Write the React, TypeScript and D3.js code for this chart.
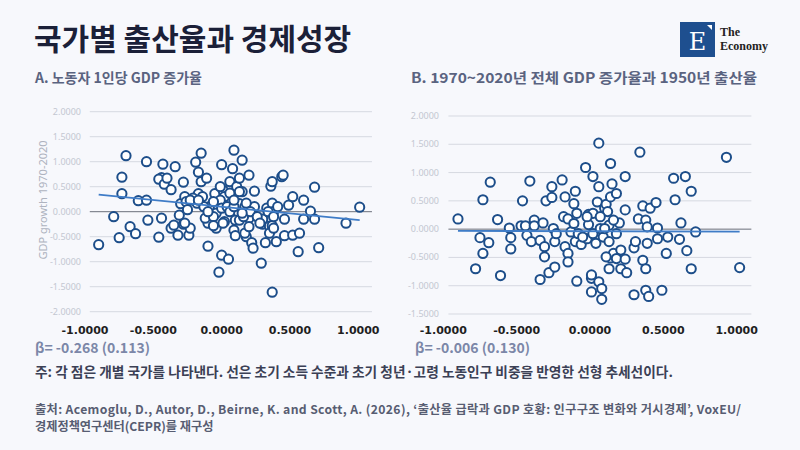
import { useEffect, useRef } from 'react';
import * as d3 from 'd3';

// Panel A: birth-rate change (x) vs GDP per worker growth (y)
const pointsA: [number, number][] = [
  [-0.90, -0.66], [-0.79, -0.10], [-0.75, -0.52], [-0.73, 0.69], [-0.73, 0.36], [-0.70, 1.12],
  [-0.67, -0.30], [-0.63, -0.44], [-0.61, 0.22], [-0.55, 1.00], [-0.55, 0.23], [-0.54, -0.17],
  [-0.46, -0.51], [-0.44, -0.13], [-0.43, 0.95], [-0.44, 0.68], [-0.46, 0.65], [-0.42, 0.55],
  [-0.40, 0.67], [-0.37, 0.44], [-0.37, -0.33], [-0.34, 0.90], [-0.32, -0.47], [-0.31, -0.07],
  [-0.30, 0.16], [-0.28, 0.59], [-0.28, -0.25], [-0.27, 0.30], [-0.26, 0.20], [-0.25, 0.04],
  [-0.24, -0.47], [-0.23, -0.33], [-0.19, 0.99], [-0.17, 0.79], [-0.17, 0.36], [-0.15, 1.17],
  [-0.15, 0.60], [-0.14, 0.30], [-0.11, 0.67], [-0.10, -0.69], [-0.10, -0.17], [-0.10, -0.23],
  [-0.09, 0.10], [-0.05, 0.36], [-0.04, -0.03], [-0.04, -0.33], [-0.02, -1.21], [0.00, -0.87],
  [0.00, 0.94], [0.01, 0.43], [0.02, 0.30], [0.02, -0.20], [0.05, -0.95], [0.06, 0.60],
  [0.08, 0.86], [0.09, 1.23], [0.09, -0.37], [0.10, -0.48], [0.11, 0.50], [0.11, -0.10],
  [0.12, -0.01], [0.13, 0.67], [0.13, 0.16], [0.15, 1.03], [0.15, 0.40], [0.17, 0.10],
  [0.18, -0.50], [0.20, 0.73], [0.20, -0.13], [0.22, -0.62], [0.23, -0.73], [0.24, 0.41],
  [0.24, 0.10], [0.29, -1.03], [0.30, -0.25], [0.30, -0.15], [0.32, -0.62], [0.33, 0.07],
  [0.35, -0.29], [0.36, 0.51], [0.37, 0.60], [0.37, 0.17], [0.37, -1.61], [0.37, -0.28],
  [0.38, 0.00], [0.40, -0.60], [0.41, 0.10], [0.44, 0.70], [0.45, 0.73], [0.46, -0.15],
  [0.46, -0.48], [0.49, 0.13], [0.52, 0.30], [0.52, -0.47], [0.56, -0.80], [0.57, -0.43],
  [0.60, 0.23], [0.60, -0.15], [0.65, 0.01], [0.68, -0.15], [0.68, 0.49], [0.71, -0.72],
  [0.91, -0.23], [1.01, 0.09],
  [-0.21, 0.27], [-0.18, 0.17], [-0.13, 0.10], [-0.12, -0.13], [-0.06, -0.10], [-0.01, 0.23],
  [0.00, 0.07], [0.04, 0.10], [0.06, 0.00], [0.09, 0.10], [0.10, -0.17], [0.13, -0.17],
  [0.16, -0.10], [0.18, 0.17], [0.21, 0.00], [0.26, -0.10], [0.28, -0.23], [0.34, 0.00],
  [0.38, -0.10], [0.06, 0.37], [-0.01, 0.50], [0.13, 0.40], [0.09, 0.23], [-0.06, 0.20],
  [-0.10, 0.00], [0.15, -0.03], [-0.35, -0.27], [-0.27, -0.23], [-0.23, 0.23], [-0.17, 0.23],
  [-0.06, -0.28], [0.01, -0.23], [0.17, -0.43], [0.20, -0.30], [0.35, -0.43], [0.38, -0.33],
];

// Panel B: birth rate 1950 (x) vs total GDP growth 1970~2020 (y)
const pointsB: [number, number][] = [
  [-0.90, 0.18], [-0.78, -0.70], [-0.75, -0.15], [-0.73, 0.52], [-0.73, -0.43], [-0.69, -0.24],
  [-0.68, 0.83], [-0.63, 0.17], [-0.61, -0.82], [-0.55, 0.02], [-0.54, -0.15], [-0.54, -0.35],
  [-0.47, 0.06], [-0.46, 0.50], [-0.44, 0.06], [-0.43, -0.11], [-0.41, 0.85], [-0.40, -0.22],
  [-0.38, 0.16], [-0.38, 0.06], [-0.34, -0.20], [-0.34, -0.89], [-0.32, 0.11], [-0.31, -0.49],
  [-0.31, -0.31], [-0.30, 0.50], [-0.28, -0.77], [-0.26, 0.56], [-0.26, 0.75], [-0.25, 0.01],
  [-0.24, -0.22], [-0.24, -0.67], [-0.19, 0.87], [-0.18, 0.22], [-0.17, 0.57], [-0.17, -0.31],
  [-0.15, 0.18], [-0.15, -0.43], [-0.15, -0.58], [-0.13, -0.05], [-0.11, 0.45], [-0.10, -0.22],
  [-0.10, 0.67], [-0.09, -0.92], [-0.09, 0.28], [-0.08, -0.08], [-0.06, -0.27], [-0.03, 1.09],
  [-0.02, -0.17], [-0.01, 0.08], [-0.01, 0.26], [0.01, -1.11], [0.01, -0.87], [0.01, -0.81],
  [0.02, 0.93], [0.02, 0.28], [0.04, -0.25], [0.05, 0.48], [0.06, -0.93], [0.06, 1.52],
  [0.06, 0.75], [0.08, -1.05], [0.08, -1.24], [0.09, -0.14], [0.10, 0.37], [0.11, 0.44],
  [0.12, 0.31], [0.13, -0.22], [0.13, -0.70], [0.13, 0.07], [0.14, 0.57], [0.14, 1.16],
  [0.15, 0.80], [0.14, -0.51], [0.16, -0.43], [0.18, -0.52], [0.18, 0.63], [0.20, 0.11],
  [0.21, -0.37], [0.21, -0.70], [0.24, -0.53], [0.24, 0.93], [0.24, 0.34], [0.25, -0.77],
  [0.30, -1.16], [0.30, -0.33], [0.31, -0.22], [0.33, 0.18], [0.34, 1.36], [0.36, 0.41],
  [0.36, -0.55], [0.38, -1.08], [0.38, 0.16], [0.38, -0.70], [0.39, -0.25], [0.40, -1.19],
  [0.41, 0.37], [0.45, 0.47], [0.46, 0.02], [0.46, -0.17], [0.49, -1.08], [0.52, -0.43],
  [0.53, -0.14], [0.57, 0.90], [0.58, 0.52], [0.61, -0.18], [0.62, 0.11], [0.65, 0.93],
  [0.66, -0.38], [0.69, -0.70], [0.69, 0.67], [0.72, -0.05], [0.93, 1.27], [1.02, -0.68],
  [-0.05, -0.14], [0.02, -0.08], [0.07, 0.01], [0.10, 0.01], [0.18, -0.08], [-0.11, 0.10],
  [-0.23, -0.08], [0.07, 0.22], [0.16, 0.16], [-0.02, 0.22], [0.39, 0.04], [0.11, -0.49],
];

// fitted trend lines (endpoints)
const trendA: [number, number][] = [[-0.90, 0.34], [1.01, -0.17]];
const trendB: [number, number][] = [[-0.90, -0.03], [1.02, -0.045]];

const yTicksA = [2, 1.5, 1, 0.5, 0, -0.5, -1, -1.5, -2];
const yTicksB = [2, 1.5, 1, 0.5, 0, -0.5, -1, -1.5];
const xTicks = [-1, -0.5, 0, 0.5, 1];

const KR = "'Noto Sans CJK KR', 'Noto Sans', sans-serif";

export default function App() {
  const ref = useRef<SVGSVGElement>(null);

  useEffect(() => {
    if (!ref.current) return;
    const svg = d3.select(ref.current);
    svg.selectAll('*').remove();

    svg.append('rect').attr('width', 800).attr('height', 450).attr('fill', '#f7f8fc');

    // title
    svg.append('text')
      .attr('x', 34).attr('y', 50)
      .attr('font-family', KR).attr('font-size', 30).attr('font-weight', 700)
      .attr('fill', '#1b2038')
      .text('국가별 출산율과 경제성장');

    // logo
    const logo = svg.append('g').attr('transform', 'translate(680,22)');
    logo.append('rect').attr('width', 35).attr('height', 35).attr('fill', '#1e4f8f');
    logo.append('path').attr('d', 'M27,3 L32,3 L32,8 Z').attr('fill', '#fff');
    logo.append('text')
      .attr('x', 17.5).attr('y', 28).attr('text-anchor', 'middle')
      .attr('font-family', "'DejaVu Serif', 'Liberation Serif', serif").attr('font-size', 24)
      .attr('fill', '#fff').text('E');
    logo.append('text').attr('x', 40).attr('y', 14)
      .attr('font-family', "'Liberation Serif', serif").attr('font-size', 12).attr('font-weight', 700)
      .attr('fill', '#222').text('The');
    logo.append('text').attr('x', 40).attr('y', 28)
      .attr('font-family', "'Liberation Serif', serif").attr('font-size', 12).attr('font-weight', 700)
      .attr('fill', '#222').text('Economy');

    const drawPanel = (
      opts: {
        title: string; titleX: number; titleLen?: number; beta: string; betaX: number;
        points: [number, number][]; trend: [number, number][];
        yTicks: number[]; xRange: [number, number]; yDomain: [number, number];
        yRange: [number, number]; yLabelX: number; yTitle?: string;
      }
    ) => {
      const x = d3.scaleLinear().domain([-1, 1]).range(opts.xRange);
      const y = d3.scaleLinear().domain(opts.yDomain).range(opts.yRange);
      const g = svg.append('g');

      const t = g.append('text')
        .attr('x', opts.titleX).attr('y', 83)
        .attr('font-family', KR).attr('font-size', 14).attr('font-weight', 700)
        .attr('fill', '#5a6380').text(opts.title);
      if (opts.titleLen) t.attr('textLength', opts.titleLen).attr('lengthAdjust', 'spacingAndGlyphs');

      // grid
      g.append('g').selectAll('line')
        .data(opts.yTicks)
        .join('line')
        .attr('x1', x(-0.965)).attr('x2', x(1.1))
        .attr('y1', d => y(d)).attr('y2', d => y(d))
        .attr('stroke', d => d === 0 ? '#6b6f7a' : '#d6d9e1')
        .attr('stroke-width', 1);

      g.append('g').selectAll('text')
        .data(opts.yTicks)
        .join('text')
        .attr('x', opts.yLabelX).attr('y', d => y(d) + 3)
        .attr('text-anchor', 'end')
        .attr('font-family', "'Noto Sans', sans-serif").attr('font-size', 9)
        .attr('fill', '#c3c7d1')
        .text(d => d3.format('.4f')(d).replace('−', '-'));

      if (opts.yTitle) {
        g.append('text')
          .attr('transform', 'translate(47,200) rotate(-90)')
          .attr('text-anchor', 'middle')
          .attr('font-family', "'Noto Sans', sans-serif").attr('font-size', 11)
          .attr('fill', '#aeb3bf').text(opts.yTitle);
      }

      // points
      g.append('g').selectAll('circle')
        .data(opts.points)
        .join('circle')
        .attr('cx', d => x(d[0])).attr('cy', d => y(d[1]))
        .attr('r', 4.6)
        .attr('fill', '#ffffff')
        .attr('stroke', '#1d4e8a')
        .attr('stroke-width', 2);

      // trend
      g.append('path')
        .datum(opts.trend)
        .attr('d', d3.line<[number, number]>().x(d => x(d[0])).y(d => y(d[1])))
        .attr('fill', 'none')
        .attr('stroke', '#3f7cc7')
        .attr('stroke-width', 1.8);

      // x tick labels
      g.append('g').selectAll('text')
        .data(xTicks)
        .join('text')
        .attr('x', d => x(d)).attr('y', 334)
        .attr('text-anchor', 'middle')
        .attr('font-family', "'DejaVu Sans', sans-serif").attr('font-size', 11).attr('font-weight', 700)
        .attr('fill', '#1f1f1f')
        .text(d => d3.format('.4f')(d).replace('−', '-'));

      g.append('text')
        .attr('x', opts.betaX).attr('y', 353)
        .attr('font-family', KR).attr('font-size', 14).attr('font-weight', 700)
        .attr('fill', '#7c87a8').text(opts.beta);
    };

    drawPanel({
      title: 'A. 노동자 1인당 GDP 증가율', titleX: 35,
      beta: 'β= -0.268 (0.113)', betaX: 35,
      points: pointsA, trend: trendA, yTicks: yTicksA,
      xRange: [85, 358.3], yDomain: [-2, 2], yRange: [311.7, 111.7], yLabelX: 81,
      yTitle: 'GDP growth 1970-2020',
    });

    drawPanel({
      title: 'B. 1970~2020년 전체 GDP 증가율과 1950년 출산율', titleX: 411, titleLen: 346,
      beta: 'β= -0.006 (0.130)', betaX: 415,
      points: pointsB, trend: trendB, yTicks: yTicksB,
      xRange: [443.3, 736.7], yDomain: [-1.5, 2], yRange: [314, 116], yLabelX: 439,
    });

    // notes
    svg.append('text')
      .attr('x', 35).attr('y', 377)
      .attr('font-family', KR).attr('font-size', 13.7).attr('font-weight', 700)
      .attr('fill', '#3b4055')
      .text('주: 각 점은 개별 국가를 나타낸다. 선은 초기 소득 수준과 초기 청년·고령 노동인구 비중을 반영한 선형 추세선이다.');

    svg.append('text')
      .attr('x', 35).attr('y', 414)
      .attr('font-family', KR).attr('font-size', 12.2).attr('font-weight', 700)
      .attr('fill', '#575d72')
      .attr('textLength', 706).attr('lengthAdjust', 'spacing')
      .text('출처: Acemoglu, D., Autor, D., Beirne, K. and Scott, A. (2026), ‘출산율 급락과 GDP 호황: 인구구조 변화와 거시경제’, VoxEU/');
    svg.append('text')
      .attr('x', 35).attr('y', 431)
      .attr('font-family', KR).attr('font-size', 12.2).attr('font-weight', 700)
      .attr('fill', '#575d72')
      .text('경제정책연구센터(CEPR)를 재구성');
  }, []);

  return (
    <svg ref={ref} width={800} height={450}
      style={{ position: 'absolute', left: 0, top: 0, display: 'block' }} />
  );
}
